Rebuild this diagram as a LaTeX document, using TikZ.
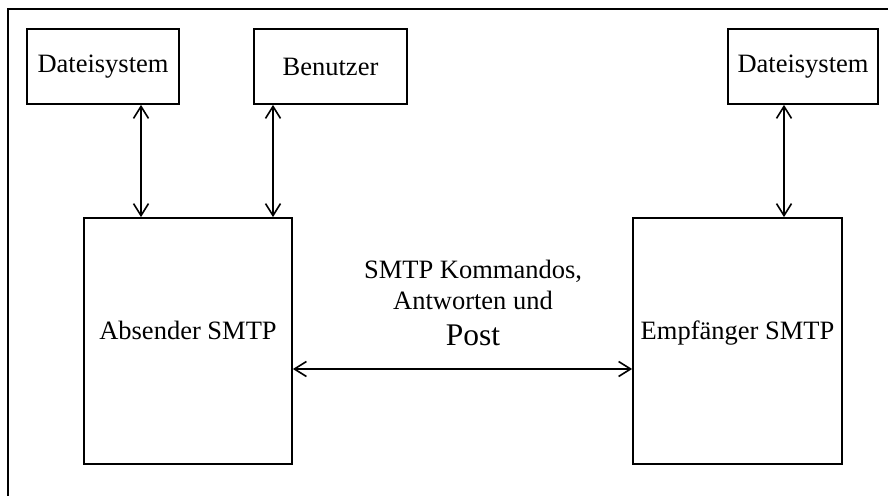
\documentclass[tikz,border=0pt]{standalone}
\usepackage{fontspec}
\setmainfont{Liberation Serif}
\usetikzlibrary{arrows.meta}
\tikzset{
  box/.style={draw, line width=1.8pt, inner sep=0pt, font=\fontsize{26.5}{31}\selectfont},
  lbl/.style={inner sep=0pt, anchor=base, font=\fontsize{26.5}{31}\selectfont},
  arr/.style={line width=1.6pt, {Straight Barb[length=12pt,width=15pt,line width=1.6pt]}-{Straight Barb[length=12pt,width=15pt,line width=1.6pt]}}
}
\begin{document}
\begin{tikzpicture}[x=1pt,y=-1pt]
\useasboundingbox (0,0) rectangle (888,495);
% open frame: only its top and left edges fall inside the page
\draw[line width=1.6pt] (8,500) -- (8,9) -- (895,9);

% upper boxes
\node[box, minimum width=152pt, minimum height=75pt] (ds1) at (103,66.5) {Dateisystem};
\node[box, minimum width=153pt, minimum height=75pt] (ben) at (330.5,66.5) {Benutzer};
\node[box, minimum width=150pt, minimum height=75pt] (ds2) at (803,66.5) {Dateisystem};

% SMTP agents
\node[box, minimum width=208pt, minimum height=246pt] (abs) at (188,341) {};
\node[box, minimum width=209pt, minimum height=246pt] (emp) at (737.5,341) {};
\node[lbl] (abst) at (188,339) {Absender SMTP};
\node[lbl] (empt) at (737.5,339) {Empfänger SMTP};

% vertical links
\draw[arr] (141,0 |- ds1.south) -- (141,0 |- abs.north);
\draw[arr] (273,0 |- ben.south) -- (273,0 |- abs.north);
\draw[arr] (784,0 |- ds2.south) -- (784,0 |- emp.north);

% channel between the agents
\draw[arr] (abs.east |- 0,369) -- (emp.west |- 0,369);
\node[lbl] (l1) at (473,278) {SMTP Kommandos,};
\node[lbl] (l2) at (473,309) {Antworten und};
\node[lbl, font=\fontsize{31.5}{36}\selectfont] (l3) at (473,345) {Post};
\end{tikzpicture}
\end{document}
